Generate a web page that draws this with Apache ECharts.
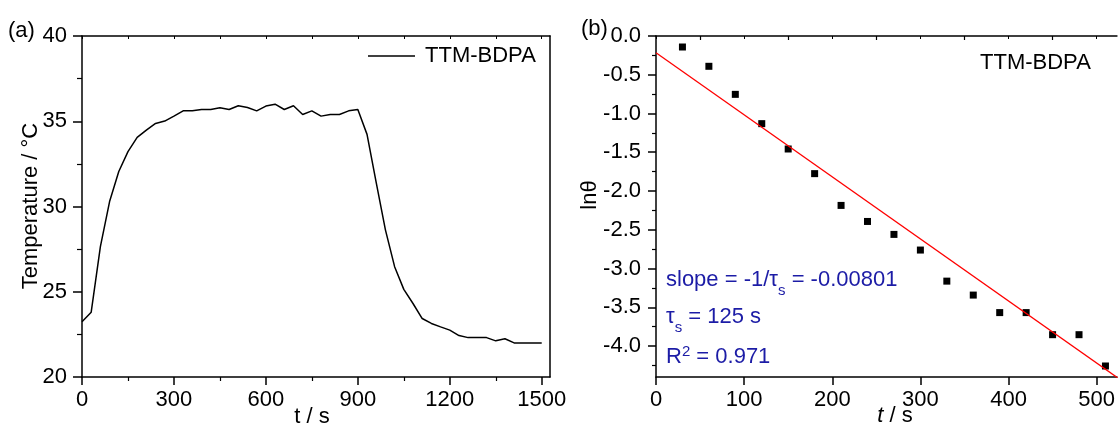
<!DOCTYPE html>
<html>
<head>
<meta charset="utf-8">
<script src="https://cdn.jsdelivr.net/npm/echarts@6/dist/echarts.min.js"></script>
<style>html,body{margin:0;padding:0;background:#fff}#c{width:1118px;height:431px}</style>
</head>
<body>
<div id="c"></div>
<script>
// ---- data ----
const tempTime = [0,30,60,90,120,150,180,210,240,270,300,330,360,390,420,450,480,510,540,570,600,630,660,690,720,750,780,810,840,870,900,930,960,990,1020,1050,1080,1110,1140,1170,1200,1230,1260,1290,1320,1350,1380,1410,1440,1470,1500];
const tempValues = [23.24,23.8,27.65,30.29,32.05,33.22,34.05,34.48,34.87,35.01,35.3,35.61,35.61,35.69,35.69,35.79,35.69,35.91,35.81,35.61,35.89,36.0,35.69,35.91,35.4,35.61,35.3,35.4,35.4,35.61,35.69,34.23,31.4,28.63,26.47,25.14,24.31,23.43,23.14,22.94,22.75,22.43,22.31,22.31,22.31,22.12,22.24,22.0,22.0,22.0,22.0];
const lnTime = [30,60,90,120,150,180,210,240,270,300,330,360,390,420,450,480,510];
const lnTheta = [-0.142,-0.391,-0.753,-1.131,-1.458,-1.776,-2.186,-2.393,-2.56,-2.762,-3.163,-3.343,-3.569,-3.569,-3.854,-3.854,-4.258];
const fitTime = [0,530];
const fitValues = [-0.215,-4.46];

const leftXTicks = [0,300,600,900,1200,1500];
const leftXMinor = [150,450,750,1050,1350];
const leftXTop = [0,150,300,450,600,750,900,1050,1200,1350,1500];
const leftYTicks = [20,25,30,35,40];
const leftYMinor = [22.5,27.5,32.5,37.5];
const rightXTicks = [0,100,200,300,400,500];
const rightXMinor = [50,150,250,350,450];
const rightXTop = [0,50,100,150,200,250,300,350,400,450,500];
const rightYTicks = [0,-0.5,-1.0,-1.5,-2.0,-2.5,-3.0,-3.5,-4.0];
const rightYMinor = [-0.25,-0.75,-1.25,-1.75,-2.25,-2.75,-3.25,-3.75,-4.25];

const FONT = 'Liberation Sans, Arial, sans-serif';
const BLUE = '#1c1ca6';

function axisBase(extra) {
  return Object.assign({
    type: 'value',
    splitLine: {show: false},
    axisLine: {show: true, onZero: false, lineStyle: {color: '#000', width: 1.5}},
    axisLabel: {show: false},
    axisTick: {show: false}
  }, extra);
}
function majorAx(pos, grid, min, max, ticks, len, fmt) {
  return axisBase({
    gridIndex: grid, position: pos, min: min, max: max,
    axisTick: {show: true, inside: false, length: len, customValues: ticks, lineStyle: {color: '#000', width: 1.5}},
    axisLabel: {show: true, customValues: ticks, color: '#000', fontSize: 22, fontFamily: FONT,
      margin: (pos === 'bottom') ? 12 : 15, formatter: fmt}
  });
}
function minorAx(pos, grid, min, max, ticks, len, inside) {
  return axisBase({
    gridIndex: grid, position: pos, min: min, max: max,
    axisLine: {show: false},
    axisTick: {show: true, inside: !!inside, length: len, customValues: ticks, lineStyle: {color: '#000', width: 1.2}}
  });
}
function borderAx(pos, grid, min, max, ticks, len) {
  const a = axisBase({gridIndex: grid, position: pos, min: min, max: max});
  if (ticks) a.axisTick = {show: true, inside: true, length: len, customValues: ticks, lineStyle: {color: '#000', width: 1}};
  return a;
}

const fmt1 = v => Number(v).toFixed(1);
const fmt0 = v => String(v);

const option = {
  animation: false,
  backgroundColor: '#fff',
  textStyle: {fontFamily: FONT},
  grid: [
    {left: 82, top: 36, right: 568, bottom: 54, containLabel: false},
    {left: 656, top: 36, right: -2, bottom: 54, containLabel: false}
  ],
  xAxis: [
    majorAx('bottom', 0, 0, 1527, leftXTicks, 8, fmt0),
    minorAx('bottom', 0, 0, 1527, leftXMinor, 4),
    borderAx('top', 0, 0, 1527, leftXTop, 3),
    majorAx('bottom', 1, 0, 523, rightXTicks, 8, fmt0),
    minorAx('bottom', 1, 0, 523, rightXMinor, 4),
    borderAx('top', 1, 0, 523, rightXTop, 3)
  ],
  yAxis: [
    majorAx('left', 0, 20, 40, leftYTicks, 9, fmt0),
    minorAx('left', 0, 20, 40, leftYMinor, 5),
    borderAx('right', 0, 20, 40, null, 0),
    majorAx('left', 1, -4.4, 0, rightYTicks, 8, fmt1),
    minorAx('left', 1, -4.4, 0, rightYMinor, 4)
  ],
  legend: {
    data: [{name: 'TTM-BDPA', icon: 'rect'}],
    left: 368, top: 45, padding: 0,
    itemWidth: 47, itemHeight: 1.5,
    itemStyle: {color: '#000'},
    textStyle: {fontSize: 22, color: '#000', fontFamily: FONT, padding: [0, 0, 0, 5]}
  },
  series: [
    {
      name: 'TTM-BDPA', type: 'line', xAxisIndex: 0, yAxisIndex: 0,
      data: tempTime.map((t, i) => [t, tempValues[i]]),
      symbol: 'none', color: '#000',
      lineStyle: {color: '#000', width: 1.5}
    },
    {
      name: 'lnθ', type: 'scatter', xAxisIndex: 3, yAxisIndex: 3,
      data: lnTime.map((t, i) => [t, lnTheta[i]]),
      symbol: 'rect', symbolSize: 7, itemStyle: {color: '#000', opacity: 1}
    },
    {
      name: 'fit', type: 'line', xAxisIndex: 3, yAxisIndex: 3, clip: true,
      data: fitTime.map((t, i) => [t, fitValues[i]]),
      symbol: 'none', lineStyle: {color: '#ff0000', width: 1.3}
    }
  ],
  graphic: [
    {type: 'text', x: 8, y: 31, style: {text: '(a)', fontSize: 22, fontFamily: FONT, fill: '#000', align: 'left', verticalAlign: 'middle', textAlign: 'left', textVerticalAlign: 'middle'}},
    {type: 'text', x: 581, y: 29, style: {text: '(b)', fontSize: 22, fontFamily: FONT, fill: '#000', align: 'left', verticalAlign: 'middle', textAlign: 'left', textVerticalAlign: 'middle'}},
    {type: 'text', x: 31, y: 206, rotation: Math.PI / 2, style: {text: 'Temperature / °C', fontSize: 22, fontFamily: FONT, fill: '#000', align: 'center', verticalAlign: 'middle', textAlign: 'center', textVerticalAlign: 'middle'}},
    {type: 'text', x: 312, y: 417, style: {text: 't / s', fontSize: 22, fontFamily: FONT, fill: '#000', align: 'center', verticalAlign: 'middle', textAlign: 'center', textVerticalAlign: 'middle'}},
    {type: 'text', x: 590, y: 195, rotation: Math.PI / 2, style: {text: 'lnθ', fontSize: 22, fontFamily: FONT, fill: '#000', align: 'center', verticalAlign: 'middle', textAlign: 'center', textVerticalAlign: 'middle'}},
    {type: 'text', x: 895, y: 416, style: {text: '{i|t} / s', fontSize: 22, fontFamily: FONT, fill: '#000', align: 'center', verticalAlign: 'middle', textAlign: 'center', textVerticalAlign: 'middle',
      rich: {i: {fontStyle: 'italic', fontSize: 22, fontFamily: FONT, fill: '#000'}}}},
    {type: 'text', x: 980, y: 63, style: {text: 'TTM-BDPA', fontSize: 22, fontFamily: FONT, fill: '#000', align: 'left', verticalAlign: 'middle', textAlign: 'left', textVerticalAlign: 'middle'}},
    {type: 'text', x: 666, y: 280, style: {text: 'slope = -1/τ{sub|s} = -0.00801', fontSize: 22, fontFamily: FONT, fill: BLUE, align: 'left', verticalAlign: 'middle', textAlign: 'left', textVerticalAlign: 'middle',
      rich: {sub: {fontSize: 15, fontFamily: FONT, fill: BLUE, padding: [21, 0, 0, 0]}}}},
    {type: 'text', x: 666, y: 317, style: {text: 'τ{sub|s} = 125 s', fontSize: 22, fontFamily: FONT, fill: BLUE, align: 'left', verticalAlign: 'middle', textAlign: 'left', textVerticalAlign: 'middle',
      rich: {sub: {fontSize: 15, fontFamily: FONT, fill: BLUE, padding: [21, 0, 0, 0]}}}},
    {type: 'text', x: 666, y: 357, style: {text: 'R{sup|2} = 0.971', fontSize: 22, fontFamily: FONT, fill: BLUE, align: 'left', verticalAlign: 'middle', textAlign: 'left', textVerticalAlign: 'middle',
      rich: {sup: {fontSize: 15, fontFamily: FONT, fill: BLUE, padding: [0, 0, 10, 0]}}}}
  ]
};

const chart = echarts.init(document.getElementById('c'), null, {renderer: 'canvas'});
chart.setOption(option);
</script>
</body>
</html>
